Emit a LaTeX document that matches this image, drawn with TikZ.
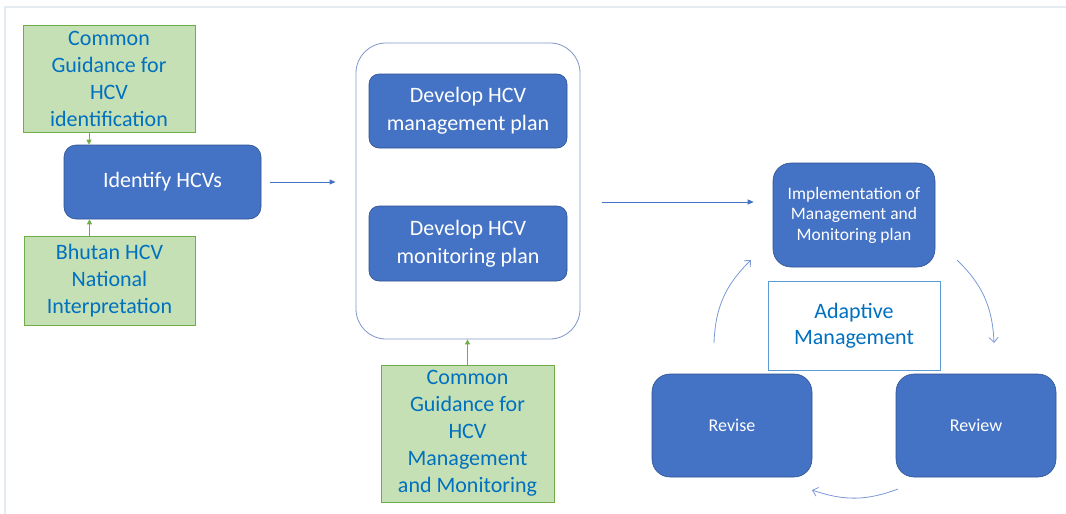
\documentclass[tikz,border=0pt]{standalone}
\usepackage{fontspec}
\setmainfont{Carlito}
\usetikzlibrary{arrows.meta,bending}
\definecolor{boxblue}{HTML}{4472C4}
\definecolor{boxedge}{HTML}{2F528F}
\definecolor{guidefill}{HTML}{C5E0B4}
\definecolor{guideedge}{HTML}{70AD47}
\definecolor{guidetext}{HTML}{0070C0}
\definecolor{groupedge}{HTML}{7F95C9}
\definecolor{adaptedge}{HTML}{5B9BD5}
\definecolor{cyclearrow}{HTML}{7A98D6}
\definecolor{framegray}{HTML}{E4ECF1}
\tikzset{
  fs/.style 2 args={font=\fontsize{#1}{#2}\selectfont},
  stepbox/.style={draw=boxedge, line width=0.6pt, fill=boxblue, text=white,
    align=center, inner sep=2pt, fs={22}{28}},
  guide/.style={draw=guideedge, line width=0.8pt, fill=guidefill, text=guidetext,
    align=center, inner sep=2pt, fs={22}{27}},
  group/.style={draw=groupedge, line width=0.8pt, rounded corners=30pt},
  adapt/.style={draw=adaptedge, line width=0.9pt, fill=white, text=guidetext,
    align=center, fs={22}{26}},
  garrow/.style={draw=guideedge, line width=0.9pt,
    -{Triangle[length=5pt,width=5pt]}},
  barrow/.style={draw=boxblue, line width=0.9pt,
    -{Triangle[length=6pt,width=5pt]}},
  carrow/.style={draw=cyclearrow, line width=0.8pt,
    -{Straight Barb[length=5pt,width=9pt,bend]}},
}
\begin{document}
\begin{tikzpicture}[x=1pt,y=-1pt]
\useasboundingbox (0,0) rectangle (1066,514);
% outer frame edges
\draw[framegray, line width=1.5pt] (5,514) -- (5,7) -- (1066,7);

% left column
\node[guide, minimum width=172pt, minimum height=107pt] (g1) at (109,78.5)
  {Common\\Guidance for\\HCV\\identification};
\node[stepbox, rounded corners=12pt, minimum width=197pt, minimum height=74pt] (id) at (162.5,182)
  {Identify HCVs};
\node[guide, minimum width=171pt, minimum height=89pt] (g2) at (109.5,280.5)
  {Bhutan HCV\\National\\Interpretation};
\draw[garrow] ([xshift=-20pt]g1.south) -- ([xshift=-20pt]g1.south |- id.north);
\draw[garrow] ([xshift=-20pt]g2.north) -- ([xshift=-20pt]g2.north |- id.south);

% planning group
\node[group, minimum width=224pt, minimum height=296pt] (grp) at (468,191) {};
\node[stepbox, rounded corners=10pt, minimum width=198pt, minimum height=74pt] (dev1) at (468,111)
  {Develop HCV\\management plan};
\node[stepbox, rounded corners=10pt, minimum width=198pt, minimum height=75pt] (dev2) at (468,243.5)
  {Develop HCV\\monitoring plan};
\node[guide, minimum width=173pt, minimum height=137pt] (g3) at (467.5,433.5)
  {Common\\Guidance for\\HCV\\Management\\and Monitoring};
\draw[garrow] (g3.north) -- (g3.north |- grp.south);
\draw[barrow] ([xshift=9pt]id.east) -- ([xshift=-20pt]id.east -| grp.west);

% adaptive management cycle
\node[stepbox, rounded corners=18pt, minimum width=162pt, minimum height=104pt, fs={17.5}{20.5}] (impl) at (854,215)
  {Implementation of\\Management and\\Monitoring plan};
\node[adapt, minimum width=172pt, minimum height=89pt] (adm) at (854,325.5)
  {Adaptive\\Management};
\node[stepbox, rounded corners=18pt, minimum width=160pt, minimum height=103pt, fs={18}{22}] (rev) at (732,425.5)
  {Revise};
\node[stepbox, rounded corners=18pt, minimum width=160pt, minimum height=103pt, fs={18}{22}] (rvw) at (976,425.5)
  {Review};

\coordinate (toimpl) at (602,202);
\draw[barrow] (toimpl) -- ([xshift=-19pt]toimpl -| impl.west);

\coordinate (c1s) at (957,260);
\coordinate (c1e) at (994,343);
\coordinate (c2s) at (898,489);
\coordinate (c2e) at (812,490);
\coordinate (c3s) at (714,343);
\coordinate (c3e) at (751,260);
\draw[carrow] (c1s) to[bend left=22] (c1e);
\draw[carrow] (c2s) to[bend left=20] (c2e);
\draw[carrow] (c3s) to[bend left=22] (c3e);
\end{tikzpicture}
\end{document}
